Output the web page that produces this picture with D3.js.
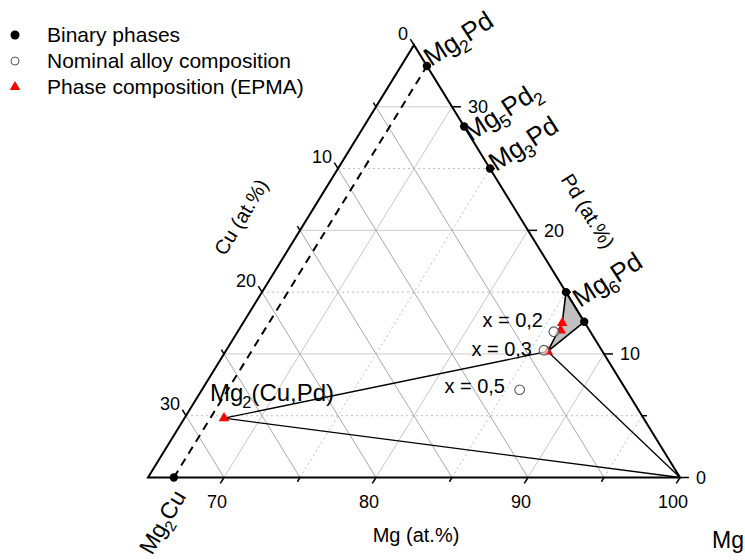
<!DOCTYPE html>
<html>
<head>
<meta charset="utf-8">
<script src="https://cdn.jsdelivr.net/npm/d3@7/dist/d3.min.js"></script>
<style>
  html, body { margin: 0; padding: 0; background: #fff; }
  svg { display: block; font-family: "Liberation Sans", Arial, sans-serif; }
</style>
</head>
<body>
<svg id="chart" width="745" height="560"></svg>
<script>
// ---------- data (compositions in at.%, Cu = 100 - Mg - Pd) ----------
const mgTicks = [70, 80, 90, 100];
const mgMinor = [75, 85, 95];
const pdTicks = [0, 10, 20, 30];
const pdMinor = [5, 15, 25];
const cuTicks = [0, 10, 20, 30];
const cuMinor = [5, 15, 25];

const binaryNames = ["Mg2Pd", "Mg5Pd2", "Mg3Pd", "Mg6Pd", "Mg6Pd (Pd-poor)", "Mg2Cu"];
const binaryMg    = [66.7, 71.6, 75.0, 85.0, 87.4, 66.7];
const binaryPd    = [33.3, 28.4, 25.0, 15.0, 12.6, 0.0];

const nominalNames = ["x = 0,2", "x = 0,3", "x = 0,5"];
const nominalMg    = [85.8, 85.9, 85.9];
const nominalPd    = [11.8, 10.3, 7.1];

const epmaNames = ["Mg2(Cu,Pd)", "x = 0,3 phase", "x = 0,2 phase a", "x = 0,2 phase b"];
const epmaMg    = [67.6, 86.2, 86.0, 86.2];
const epmaPd    = [4.8, 10.2, 12.5, 11.9];

const cornerMg = [100, 0];   // pure Mg corner (Mg, Pd)

// ---------- scales ----------
const svg = d3.select("#chart");
const xS = d3.scaleLinear().domain([0, 35]).range([148, 680]); // (Mg-65) + Pd/2
const yS = d3.scaleLinear().domain([0, 35]).range([477.5, 45]); // Pd
function P(mg, pd) { return [xS(mg - 65 + pd / 2), yS(pd)]; }
const line = d3.line();

// ---------- grid ----------
const gGrid = svg.append("g");
function gridLine(a, b, stroke, dash) {
  gGrid.append("path").attr("d", line([a, b]))
    .attr("stroke", stroke).attr("stroke-width", 1).attr("fill", "none")
    .attr("stroke-dasharray", dash || null);
}
pdTicks.concat(pdMinor).forEach(p => {
  if (p === 0) return;
  const minor = pdMinor.includes(p);
  gridLine(P(65, p), P(100 - p, p), minor ? "#bdbdbd" : "#cccccc", minor ? "2,3" : null);
});
mgTicks.concat(mgMinor).forEach(m => {
  if (m === 100) return;
  const minor = mgMinor.includes(m);
  gridLine(P(m, 0), P(m, 100 - m), minor ? "#bdbdbd" : "#c8c8c8", minor ? "2,3" : null);
});
cuTicks.concat(cuMinor).forEach(c => {
  if (c === 0) return;
  gridLine(P(65, 35 - c), P(100 - c, 0), "#a8a8a8", null);
});

// ---------- shaded phase region ----------
const regionPts = [
  P(binaryMg[3], binaryPd[3]),
  P(binaryMg[4], binaryPd[4]),
  P(epmaMg[1], epmaPd[1]),
  P(epmaMg[2], epmaPd[2])
];
svg.append("path").attr("d", line(regionPts) + "Z")
  .attr("fill", "#c0c0c0").attr("stroke", "#000").attr("stroke-width", 1.6)
  .attr("stroke-linejoin", "round");

// ---------- triangle frame ----------
svg.append("path")
  .attr("d", line([P(65, 0), P(100, 0), P(65, 35)]) + "Z")
  .attr("fill", "none").attr("stroke", "#000").attr("stroke-width", 2);

// ---------- ticks ----------
const gTick = svg.append("g").attr("stroke", "#000").attr("stroke-width", 1.5);
function unit(a, b) { const dx = b[0] - a[0], dy = b[1] - a[1], l = Math.hypot(dx, dy); return [dx / l, dy / l]; }
const dirMg = unit(P(65, 35), P(65, 0));
const dirCuN = unit(P(65, 35), P(100, 0));
const dirCuOut = [-dirCuN[0], -dirCuN[1]];
function tick(p, d, len) {
  gTick.append("path").attr("d", line([p, [p[0] + d[0] * len, p[1] + d[1] * len]])).attr("fill", "none");
}
mgTicks.forEach(m => tick(P(m, 0), dirMg, 7));
mgMinor.forEach(m => tick(P(m, 0), dirMg, 5));
pdTicks.forEach(p => tick(P(100 - p, p), [1, 0], 9));
pdMinor.forEach(p => tick(P(100 - p, p), [1, 0], 5));
cuTicks.forEach(c => tick(P(65, 35 - c), dirCuOut, 7));
cuMinor.forEach(c => tick(P(65, 35 - c), dirCuOut, 5));

const gLab = svg.append("g").attr("font-size", 18).attr("fill", "#000");
mgTicks.forEach(m => {
  const p = P(m, 0);
  gLab.append("text").attr("x", p[0] - 7).attr("y", p[1] + 30)
    .attr("text-anchor", "middle").text(m);
});
pdTicks.forEach(v => {
  const p = P(100 - v, v);
  gLab.append("text").attr("x", p[0] + 16).attr("y", p[1] + 6.5)
    .attr("text-anchor", "start").text(v);
});
cuTicks.forEach(c => {
  const p = P(65, 35 - c);
  gLab.append("text").attr("x", p[0] - 6).attr("y", p[1] - 5.5)
    .attr("text-anchor", "end").text(c);
});

// axis titles
svg.append("text").attr("x", 416).attr("y", 542).attr("font-size", 20)
  .attr("text-anchor", "middle").text("Mg (at.%)");
svg.append("text").attr("transform", "translate(241,217) rotate(-58.5)")
  .attr("font-size", 20).attr("text-anchor", "middle").attr("dy", "0.35em").text("Cu (at.%)");
svg.append("text").attr("transform", "translate(588,211) rotate(58.5)")
  .attr("font-size", 20).attr("text-anchor", "middle").attr("dy", "0.35em").text("Pd (at.%)");
svg.append("text").attr("x", 712).attr("y", 548).attr("font-size", 23).text("Mg");

// ---------- tie lines ----------
const eMg2 = P(epmaMg[0], epmaPd[0]);
const e03 = P(epmaMg[1], epmaPd[1]);
const cMg = P(cornerMg[0], cornerMg[1]);
[[eMg2, e03], [eMg2, cMg], [e03, cMg]].forEach(seg => {
  svg.append("path").attr("d", line(seg)).attr("stroke", "#000")
    .attr("stroke-width", 1.3).attr("fill", "none");
});

svg.append("path").attr("d", line([P(binaryMg[5], binaryPd[5]), P(binaryMg[0], binaryPd[0])]))
  .attr("stroke", "#000").attr("stroke-width", 2).attr("stroke-dasharray", "8,6").attr("fill", "none");

// ---------- markers ----------
const tri = d3.symbol().type(d3.symbolTriangle).size(48);
epmaMg.forEach((m, i) => {
  const p = P(m, epmaPd[i]);
  svg.append("path").attr("d", tri()).attr("transform", `translate(${p[0]},${p[1]})`)
    .attr("fill", "#ff0000");
});
nominalMg.forEach((m, i) => {
  const p = P(m, nominalPd[i]);
  svg.append("circle").attr("cx", p[0]).attr("cy", p[1]).attr("r", 4.8)
    .attr("fill", "#fff").attr("fill-opacity", 0.6).attr("stroke", "#555").attr("stroke-width", 1.1);
});
binaryMg.forEach((m, i) => {
  const p = P(m, binaryPd[i]);
  svg.append("circle").attr("cx", p[0]).attr("cy", p[1]).attr("r", 4.2).attr("fill", "#000");
});

// ---------- phase labels ----------
function phaseLabel(parts, x, y, rot, fs) {
  const t = svg.append("text").attr("transform", `translate(${x},${y}) rotate(${rot})`)
    .attr("font-size", fs);
  let prevSub = false;
  parts.forEach(([s, sub]) => {
    const ts = t.append("tspan").text(s);
    if (sub) {
      ts.attr("font-size", fs * 0.68).attr("dy", fs * 0.28).attr("dx", -1);
    } else if (prevSub) {
      ts.attr("dy", -fs * 0.28);
    }
    prevSub = !!sub;
  });
}
phaseLabel([["Mg"], ["2", 1], ["Pd"]], 431, 67, -33, 26);
phaseLabel([["Mg"], ["5", 1], ["Pd"], ["2", 1]], 471, 142, -33, 26);
phaseLabel([["Mg"], ["3", 1], ["Pd"]], 496, 172, -33, 26);
phaseLabel([["Mg"], ["6", 1], ["Pd"]], 580, 308, -33, 26);
phaseLabel([["Mg"], ["2", 1], ["Cu"]], 152, 556, -60, 23);
phaseLabel([["Mg"], ["2", 1], ["(Cu,Pd)"]], 210, 401, 0, 24);

const nomLabPos = [[543, 327], [532, 356], [505, 393]];
nominalNames.forEach((n, i) => {
  svg.append("text").attr("x", nomLabPos[i][0]).attr("y", nomLabPos[i][1])
    .attr("font-size", 20).attr("text-anchor", "end").text(n);
});

// ---------- legend ----------
const legY = [35, 61, 87];
const legNames = ["Binary phases", "Nominal alloy composition", "Phase composition (EPMA)"];
svg.append("circle").attr("cx", 15).attr("cy", legY[0]).attr("r", 4.5).attr("fill", "#000");
svg.append("circle").attr("cx", 15).attr("cy", legY[1]).attr("r", 4).attr("fill", "#fff")
  .attr("stroke", "#555").attr("stroke-width", 1);
svg.append("path").attr("d", tri()).attr("transform", `translate(15,${legY[2]})`).attr("fill", "#ff0000");
legNames.forEach((n, i) => {
  svg.append("text").attr("x", 47).attr("y", legY[i]).attr("dy", "0.35em")
    .attr("font-size", 21).text(n);
});
</script>
</body>
</html>
